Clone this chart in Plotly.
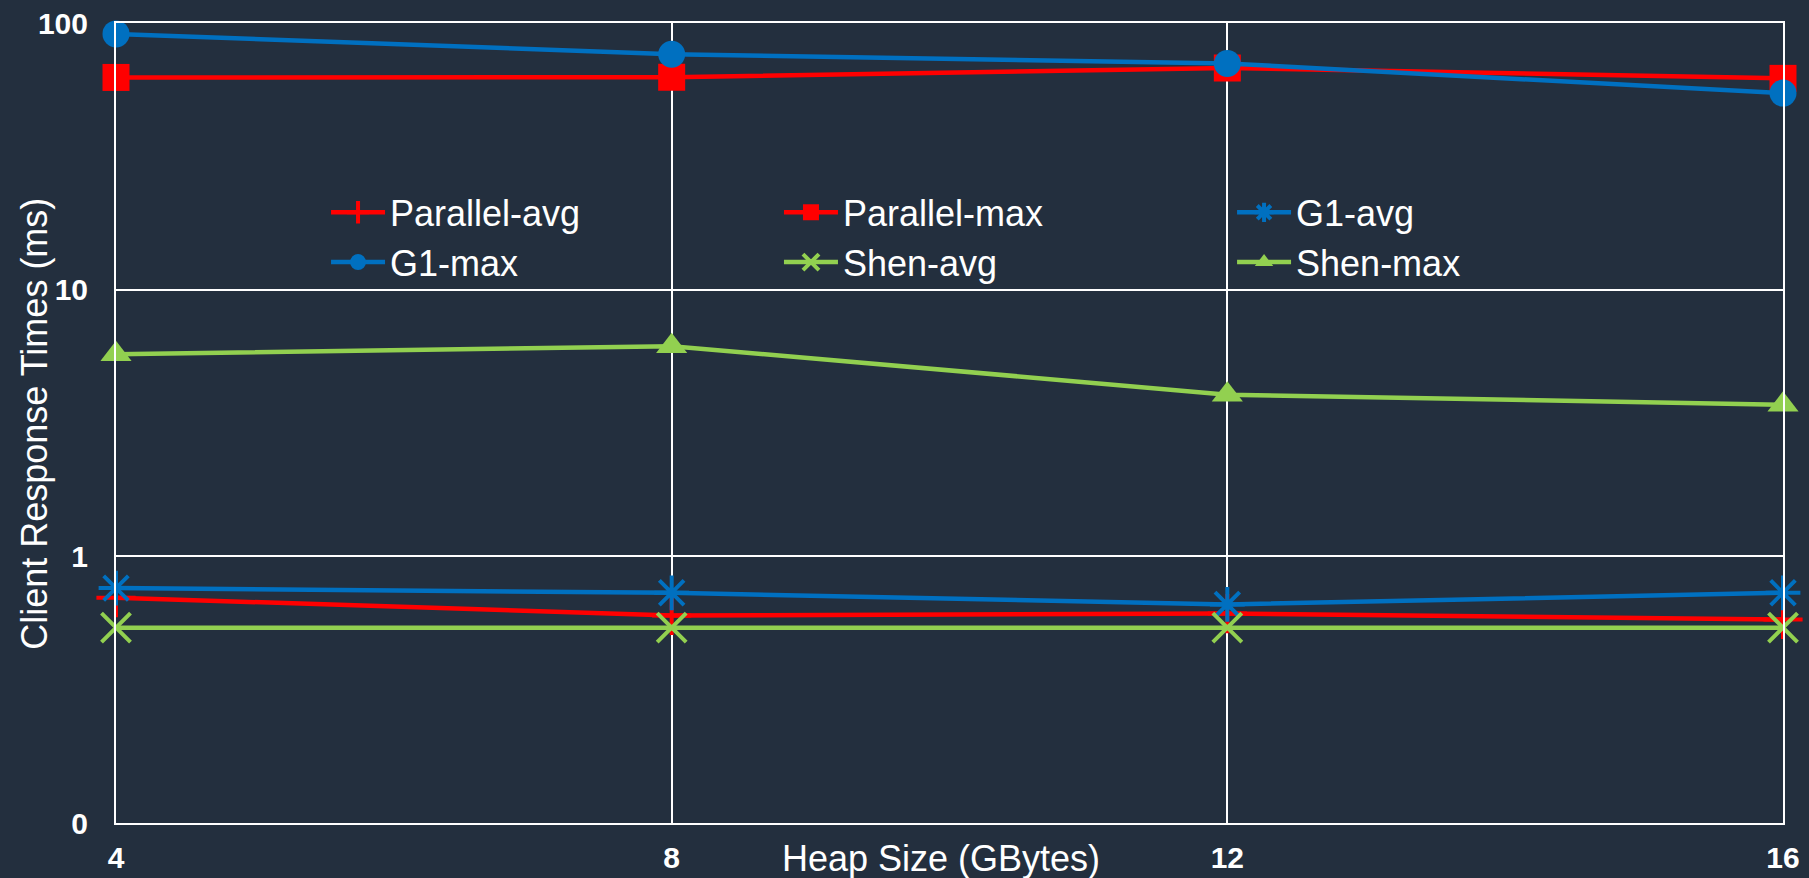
import plotly.graph_objects as go

heap_sizes = [4, 8, 12, 16]
x_tick_labels = ["4", "8", "12", "16"]

parallel_avg = [0.70, 0.60, 0.61, 0.58]
parallel_max = [62.5, 62.6, 67.8, 62.0]
g1_avg = [0.76, 0.73, 0.66, 0.73]
g1_max = [91.0, 76.4, 70.5, 54.6]
shen_avg = [0.54, 0.54, 0.54, 0.54]
shen_max = [5.73, 6.14, 4.04, 3.70]

y_tick_vals = [0.1, 1, 10, 100]
y_tick_labels = ["0", "1", "10", "100"]

RED = "#FF0000"
BLUE = "#0070C0"
GREEN = "#92D050"
BG = "#232F3E"
FONT = "Liberation Sans, Arial, sans-serif"

series = [
    # name, values, color, symbol, size, legend
    ("Parallel-avg", parallel_avg, RED, "cross-thin-open", 28, "legend"),
    ("Parallel-max", parallel_max, RED, "square", 27, "legend2"),
    ("G1-avg", g1_avg, BLUE, "asterisk-open", 29, "legend3"),
    ("G1-max", g1_max, BLUE, "circle", 27, "legend"),
    ("Shen-avg", shen_avg, GREEN, "x-thin-open", 29, "legend2"),
    ("Shen-max", shen_max, GREEN, "triangle-up", 27, "legend3"),
]

fig = go.Figure()
for name, vals, color, symbol, size, leg in series:
    open_sym = symbol.endswith("-open")
    fig.add_trace(go.Scatter(
        x=heap_sizes, y=vals, name=name, mode="lines+markers",
        line=dict(color=color, width=4.5),
        marker=dict(symbol=symbol, size=size, color=color,
                    line=dict(color=color, width=4 if open_sym else 0)),
        legend=leg, cliponaxis=False,
    ))

legend_common = dict(
    orientation="v", yanchor="middle", y=0.732, xanchor="left",
    bgcolor="rgba(0,0,0,0)", font=dict(family=FONT, size=36, color="white"),
    itemwidth=54, tracegroupgap=0,
)

fig.update_layout(
    width=1809, height=878,
    paper_bgcolor=BG, plot_bgcolor=BG,
    margin=dict(l=116, r=26, t=23, b=55, autoexpand=False),
    font=dict(family=FONT, color="white"),
    showlegend=True,
    legend=dict(x=0.126, **legend_common),
    legend2=dict(x=0.3977, **legend_common),
    legend3=dict(x=0.6695, **legend_common),
    xaxis=dict(
        range=[4, 16], tickvals=heap_sizes, ticktext=x_tick_labels,
        showgrid=True, gridcolor="white", gridwidth=2,
        showline=True, linecolor="white", linewidth=2, mirror=True,
        zeroline=False, ticks="", ticklabelstandoff=7, automargin=False,
        tickfont=dict(family=FONT, size=30, color="white", weight="bold"),
    ),
    yaxis=dict(
        type="log", range=[-1, 2], tickvals=y_tick_vals, ticktext=y_tick_labels,
        showgrid=True, gridcolor="white", gridwidth=2,
        showline=True, linecolor="white", linewidth=2, mirror=True,
        zeroline=False, ticks="", ticklabelstandoff=20, automargin=False,
        tickfont=dict(family=FONT, size=30, color="white", weight="bold"),
    ),
    annotations=[
        dict(text="Heap Size (GBytes)", xref="paper", yref="paper",
             x=0.495, y=-0.044, xanchor="center", yanchor="middle",
             showarrow=False, font=dict(family=FONT, size=36, color="white")),
        dict(text="Client Response Times (ms)", xref="paper", yref="paper",
             x=-0.0486, y=0.499, xanchor="center", yanchor="middle", textangle=-90,
             showarrow=False, font=dict(family=FONT, size=36, color="white")),
    ],
)

fig.write_html(
    "out.html",
    config={"displayModeBar": False},
    post_script="document.body.style.margin='0';document.body.style.background='" + BG + "';",
)
